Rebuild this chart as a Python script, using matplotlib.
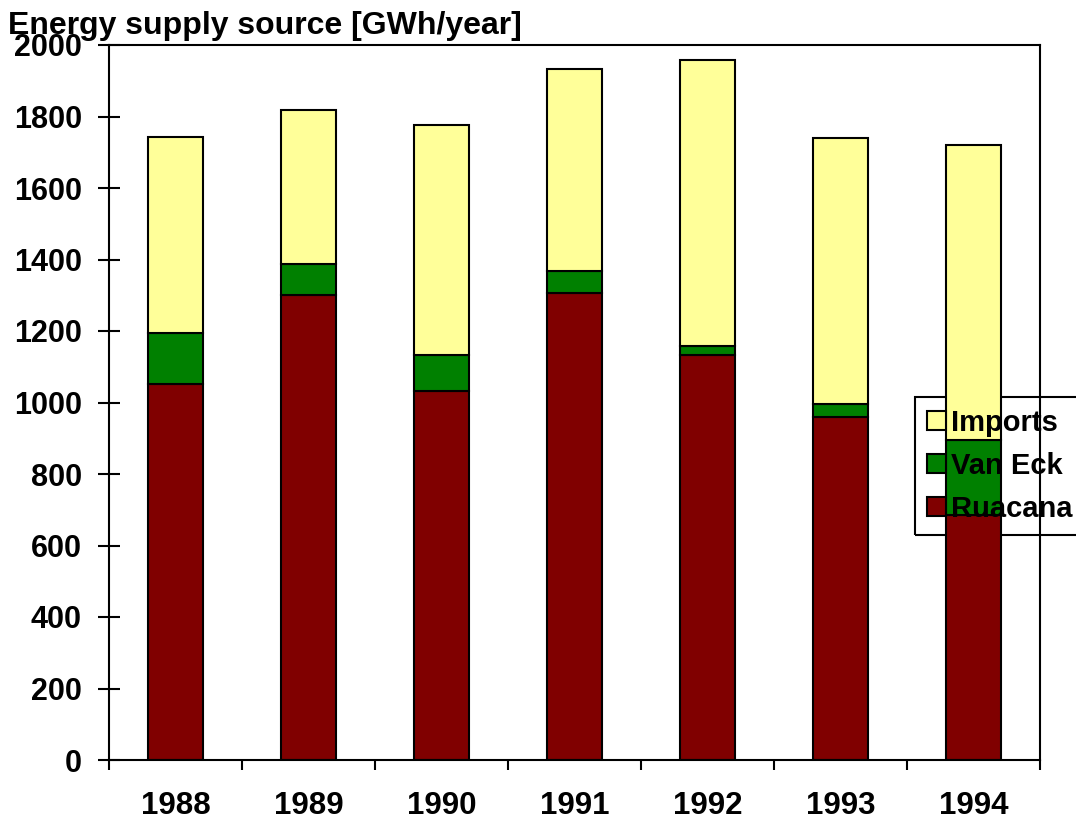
import matplotlib.pyplot as plt
import numpy as np

plt.rcParams['font.family'] = ['Liberation Sans', 'DejaVu Sans']
plt.rcParams['font.weight'] = 'bold'

years = ['1988', '1989', '1990', '1991', '1992', '1993', '1994']
ruacana = [1052, 1301, 1032, 1306, 1133, 959, 685]
van_eck = [142, 86, 101, 62, 25, 37, 210]
imports = [549, 431, 643, 565, 800, 744, 825]

fig = plt.figure(figsize=(10.76, 8.19), dpi=100)
ax = fig.add_axes([109/1076, 1-760/819, 931/1076, 715/819])

x = np.arange(len(years))
w = 0.41
ec = 'black'
lw = 1.5
b1 = ax.bar(x, ruacana, w, color='#800000', edgecolor=ec, linewidth=lw, label='Ruacana')
bot = np.array(ruacana)
b2 = ax.bar(x, van_eck, w, bottom=bot, color='#008000', edgecolor=ec, linewidth=lw, label='Van Eck')
bot = bot + np.array(van_eck)
b3 = ax.bar(x, imports, w, bottom=bot, color='#FFFF99', edgecolor=ec, linewidth=lw, label='Imports')

ax.set_xlim(-0.5, len(years) - 0.5)
ax.set_ylim(0, 2000)
ax.set_yticks(range(0, 2001, 200))
ax.set_xticks(x)
ax.set_xticklabels(years)
ax.set_xticks(np.arange(-0.5, len(years), 1), minor=True)
ax.tick_params(axis='x', which='major', length=0, pad=22, labelsize=22.5)
ax.tick_params(axis='x', which='minor', length=7.5, width=1.5, direction='out')
ax.tick_params(axis='y', length=16, width=1.5, direction='inout', labelsize=22, pad=11.5)
for lab in ax.get_xticklabels() + ax.get_yticklabels():
    lab.set_fontweight('bold')
for s in ax.spines.values():
    s.set_linewidth(1.5)

fig.text(8/1076, 1-34/819, 'Energy supply source [GWh/year]', fontsize=23,
         fontweight='bold', ha='left', va='baseline')

# legend frame sits behind the bars, legend text on top (as in the original)
leg_kw = dict(handles=[b3, b2, b1], loc='upper left',
              bbox_to_anchor=(915/1076, 1-397/819), bbox_transform=fig.transFigure,
              fontsize=21, fancybox=False, handlelength=0.65, handleheight=0.65,
              handletextpad=0.2, borderpad=0.4, labelspacing=0.52, borderaxespad=0)
leg_back = ax.legend(frameon=True, edgecolor='black', facecolor='none',
                     framealpha=1, **leg_kw)
leg_back.get_frame().set_linewidth(1.5)
for t in leg_back.get_texts():
    t.set_alpha(0)
for h in leg_back.legend_handles:
    h.set_alpha(0)
leg_back.set_zorder(0.5)
ax.add_artist(leg_back)

leg = ax.legend(frameon=False, **leg_kw)
for t in leg.get_texts():
    t.set_fontweight('bold')
for h in leg.legend_handles:
    h.set_linewidth(1.5)

fig.savefig('out.png', dpi=100)
